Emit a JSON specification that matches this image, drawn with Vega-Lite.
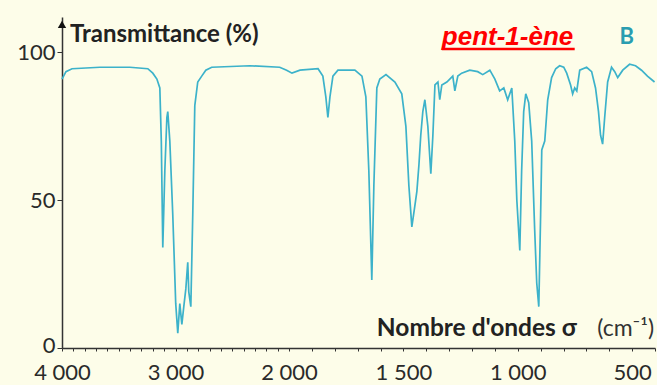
{
  "$schema": "https://vega.github.io/schema/vega-lite/v6.json",
  "width": 593,
  "height": 331,
  "autosize": {"type": "none"},
  "padding": {"left": 62, "top": 17, "right": 2, "bottom": 37},
  "background": "#fdfde9",
  "config": {"view": {"stroke": null}},
  "datasets": {
    "spectrum": [
      {"s": 4000, "t": 91}, {"s": 3965, "t": 93.5}, {"s": 3912, "t": 94.5}, {"s": 3666, "t": 95}, {"s": 3402, "t": 95},
      {"s": 3244, "t": 94.5}, {"s": 3200, "t": 93}, {"s": 3164, "t": 91}, {"s": 3138, "t": 88}, {"s": 3125, "t": 70},
      {"s": 3112, "t": 34}, {"s": 3094, "t": 60}, {"s": 3076, "t": 78}, {"s": 3068, "t": 80}, {"s": 3050, "t": 70},
      {"s": 3024, "t": 45}, {"s": 2998, "t": 15}, {"s": 2980, "t": 5}, {"s": 2962, "t": 15}, {"s": 2944, "t": 8},
      {"s": 2927, "t": 14}, {"s": 2909, "t": 20}, {"s": 2892, "t": 29}, {"s": 2883, "t": 19}, {"s": 2865, "t": 14},
      {"s": 2848, "t": 45}, {"s": 2830, "t": 82}, {"s": 2804, "t": 90}, {"s": 2769, "t": 92}, {"s": 2733, "t": 94},
      {"s": 2681, "t": 95}, {"s": 2346, "t": 95.5}, {"s": 2082, "t": 95}, {"s": 2021, "t": 94}, {"s": 1987, "t": 93},
      {"s": 1952, "t": 94}, {"s": 1873, "t": 94.5}, {"s": 1852, "t": 92}, {"s": 1839, "t": 85}, {"s": 1830, "t": 78},
      {"s": 1821, "t": 85}, {"s": 1808, "t": 92}, {"s": 1786, "t": 94}, {"s": 1712, "t": 94}, {"s": 1681, "t": 92},
      {"s": 1664, "t": 85}, {"s": 1651, "t": 60}, {"s": 1638, "t": 23}, {"s": 1629, "t": 55}, {"s": 1616, "t": 88},
      {"s": 1603, "t": 91}, {"s": 1576, "t": 92.5}, {"s": 1537, "t": 90}, {"s": 1507, "t": 86}, {"s": 1489, "t": 75},
      {"s": 1476, "t": 55}, {"s": 1463, "t": 41}, {"s": 1450, "t": 48}, {"s": 1441, "t": 53}, {"s": 1432, "t": 62},
      {"s": 1424, "t": 72}, {"s": 1415, "t": 80}, {"s": 1406, "t": 84}, {"s": 1393, "t": 75}, {"s": 1380, "t": 59},
      {"s": 1371, "t": 72}, {"s": 1362, "t": 89}, {"s": 1349, "t": 90}, {"s": 1341, "t": 84}, {"s": 1332, "t": 89},
      {"s": 1310, "t": 90}, {"s": 1284, "t": 92}, {"s": 1275, "t": 87}, {"s": 1262, "t": 92}, {"s": 1245, "t": 93},
      {"s": 1210, "t": 94}, {"s": 1175, "t": 93.5}, {"s": 1153, "t": 92.5}, {"s": 1122, "t": 94}, {"s": 1100, "t": 91},
      {"s": 1079, "t": 87}, {"s": 1061, "t": 88}, {"s": 1044, "t": 84}, {"s": 1026, "t": 88}, {"s": 1013, "t": 70},
      {"s": 1004, "t": 50}, {"s": 991, "t": 33}, {"s": 983, "t": 60}, {"s": 974, "t": 80}, {"s": 965, "t": 86},
      {"s": 952, "t": 83}, {"s": 939, "t": 70}, {"s": 926, "t": 40}, {"s": 917, "t": 22}, {"s": 908, "t": 14},
      {"s": 900, "t": 45}, {"s": 895, "t": 67}, {"s": 882, "t": 70}, {"s": 869, "t": 84}, {"s": 852, "t": 91.5},
      {"s": 834, "t": 94.5}, {"s": 817, "t": 95.5}, {"s": 799, "t": 95}, {"s": 786, "t": 93}, {"s": 769, "t": 89},
      {"s": 760, "t": 86}, {"s": 751, "t": 88}, {"s": 742, "t": 87}, {"s": 729, "t": 94}, {"s": 699, "t": 95},
      {"s": 677, "t": 93.5}, {"s": 660, "t": 88}, {"s": 647, "t": 80}, {"s": 638, "t": 72}, {"s": 629, "t": 69},
      {"s": 620, "t": 78}, {"s": 607, "t": 90}, {"s": 590, "t": 95}, {"s": 576, "t": 93.5}, {"s": 563, "t": 91.5},
      {"s": 541, "t": 94}, {"s": 511, "t": 96}, {"s": 485, "t": 95.5}, {"s": 459, "t": 94}, {"s": 433, "t": 92},
      {"s": 402, "t": 90}
    ],
    "arrow": [{"s": 4000, "t": 109.5}],
    "ylabel": [{"s": 3930, "t": 103.6, "label": "Transmittance (%)"}],
    "xlabelBold": [{"s": 1616, "t": 4.2, "label": "Nombre d'ondes σ"}],
    "xlabelUnit": [{"s": 404, "t": 4.2, "label": "(cm⁻¹)"}],
    "name": [{"s": 1332, "t": 102.5, "label": "pent-1-ène"}],
    "underline": [{"s": 1332, "s2": 751, "t": 101.2}],
    "letter": [{"s": 524, "t": 102.9, "label": "B"}]
  },
  "layer": [
    {
      "data": {"name": "spectrum"},
      "mark": {"type": "line", "color": "#3cb2ca", "strokeWidth": 1.7},
      "encoding": {
        "x": {
          "field": "s", "type": "quantitative",
          "scale": {"domain": [4000, 2000, 400], "range": [0, 227, 593], "zero": false, "nice": false},
          "axis": {
            "title": null,
            "values": [4000,3900,3800,3700,3600,3500,3400,3300,3200,3100,3000,2900,2800,2700,2600,2500,2400,2300,2200,2100,2000,1900,1800,1700,1600,1500,1400,1300,1200,1100,1000,900,800,700,600,500,400],
            "tickCount": 200,
            "labelExpr": "indexof([4000,3000,2000,1500,1000,500], datum.value) >= 0 ? replace(format(datum.value, ',d'), ',', ' ') : ''",
            "labelOverlap": false,
            "labelFlush": false,
            "labelFont": "Lato",
            "labelFontSize": 22,
            "labelColor": "#2a2a2a",
            "labelPadding": 11,
            "domainColor": "#333333",
            "domainWidth": 1.5,
            "tickColor": "#333333",
            "tickSize": 3,
            "grid": false
          }
        },
        "y": {
          "field": "t", "type": "quantitative",
          "scale": {"domain": [0, 112], "zero": false, "nice": false},
          "axis": {
            "title": null,
            "values": [0, 50, 100],
            "tickCount": 50,
            "labelFont": "Lato",
            "labelFontSize": 22,
            "labelColor": "#2a2a2a",
            "labelPadding": 2,
            "labelOffset": {"condition": {"test": "datum.value == 0", "value": -3}, "value": 0},
            "domainColor": "#333333",
            "domainWidth": 1.5,
            "tickColor": "#333333",
            "tickSize": 5,
            "grid": false
          }
        }
      }
    },
    {
      "data": {"name": "arrow"},
      "mark": {"type": "point", "shape": "triangle-up", "filled": true, "color": "#111111", "size": 70, "opacity": 1},
      "encoding": {"x": {"field": "s", "type": "quantitative"}, "y": {"field": "t", "type": "quantitative"}}
    },
    {
      "data": {"name": "ylabel"},
      "mark": {"type": "text", "align": "left", "baseline": "alphabetic", "font": "Lato", "fontWeight": "bold", "fontSize": 24, "color": "#222222"},
      "encoding": {"x": {"field": "s", "type": "quantitative"}, "y": {"field": "t", "type": "quantitative"}, "text": {"field": "label"}}
    },
    {
      "data": {"name": "xlabelBold"},
      "mark": {"type": "text", "align": "left", "baseline": "alphabetic", "font": "Lato", "fontWeight": "bold", "fontSize": 24.5, "color": "#222222"},
      "encoding": {"x": {"field": "s", "type": "quantitative"}, "y": {"field": "t", "type": "quantitative"}, "text": {"field": "label"}}
    },
    {
      "data": {"name": "xlabelUnit"},
      "mark": {"type": "text", "align": "right", "baseline": "alphabetic", "font": "Lato", "fontSize": 23, "color": "#333333"},
      "encoding": {"x": {"field": "s", "type": "quantitative"}, "y": {"field": "t", "type": "quantitative"}, "text": {"field": "label"}}
    },
    {
      "data": {"name": "name"},
      "mark": {"type": "text", "align": "left", "baseline": "alphabetic", "font": "Liberation Sans", "fontWeight": "bold", "fontStyle": "italic", "fontSize": 26, "color": "#ff0000"},
      "encoding": {"x": {"field": "s", "type": "quantitative"}, "y": {"field": "t", "type": "quantitative"}, "text": {"field": "label"}}
    },
    {
      "data": {"name": "underline"},
      "mark": {"type": "rule", "color": "#ff0000", "strokeWidth": 2.5},
      "encoding": {"x": {"field": "s", "type": "quantitative"}, "x2": {"field": "s2"}, "y": {"field": "t", "type": "quantitative"}}
    },
    {
      "data": {"name": "letter"},
      "mark": {"type": "text", "align": "center", "baseline": "alphabetic", "font": "Lato", "fontWeight": "bold", "fontSize": 22, "color": "#2a9db0"},
      "encoding": {"x": {"field": "s", "type": "quantitative"}, "y": {"field": "t", "type": "quantitative"}, "text": {"field": "label"}}
    }
  ]
}
